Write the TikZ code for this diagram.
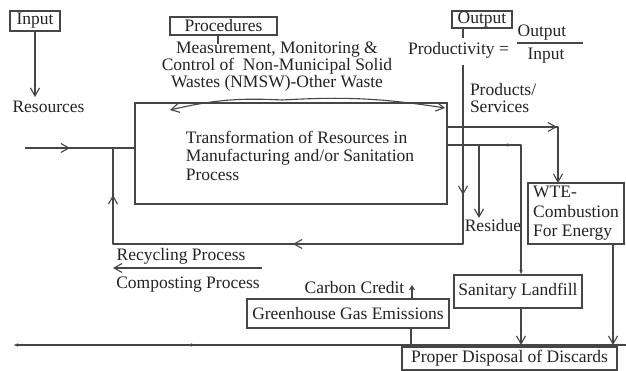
\documentclass[tikz,border=0pt]{standalone}
\usepackage{fontspec}
\setmainfont{Liberation Serif}
\usetikzlibrary{arrows.meta,decorations.markings}
\begin{document}
\begin{tikzpicture}[x=1pt,y=1pt,
  openhead/.tip={Straight Barb[length=8pt,width=9pt]},
  smallhead/.tip={Straight Barb[length=4pt,width=5pt]},
  filledhead/.tip={Latex[length=5pt,width=3.5pt]},
  wire/.style={draw=drawColor,line width=1.1pt,line join=round},
  boxed/.style={draw=drawColor,line width=1.1pt,inner sep=0pt,outer sep=0pt,text=textColor,font=\fontsize{17.5}{17}\selectfont},
  tag/.style={inner sep=0pt,outer sep=0pt,text=textColor,font=\fontsize{17.5}{17}\selectfont},
  midarrow/.style={postaction={decorate,decoration={markings,mark=at position #1 with {\arrow{openhead}}}}},
  middart/.style={postaction={decorate,decoration={markings,mark=at position #1 with {\arrow{filledhead}}}}}]
\definecolor{fillColor}{RGB}{255,255,255}
\definecolor{drawColor}{RGB}{70,70,70}
\definecolor{textColor}{RGB}{35,35,35}
\path[use as bounding box,fill=fillColor] (0,0) rectangle (626,371);

\begin{scope}
\node[boxed,minimum width=50pt,minimum height=20pt] (input) at ( 35.0,350.0) {Input};
\coordinate (resTip) at ( 35.0,274.0);
\node[tag] (resources) at ( 48.5,264.0) {Resources};

\node[boxed,minimum width=107pt,minimum height=18pt] (procedures) at (223.5,345.0) {Procedures};
\coordinate (procTick) at (218.0,327.0);
\node[tag,align=center] (measure) at (277.0,304.0) {Measurement, Monitoring \&\\Control of~~Non-Municipal Solid\\Wastes (NMSW)-Other Waste};
\coordinate (peak) at (282.0,271.0);
\coordinate (leftTip) at (170.0,261.0);
\coordinate (rightTip) at (445.0,263.0);

\node[boxed,minimum width=60pt,minimum height=17pt] (output) at (482.0,351.5) {Output};
\coordinate (outTick) at (463.0,333.0);
\node[tag] (productivity) at (458.5,321.0) {Productivity =};
\node[tag] (numer) at (542.0,338.0) {Output};
\node[tag] (denom) at (546.0,315.0) {Input};
\coordinate (fracL) at (517.0,328.0);
\coordinate (fracR) at (583.0,328.0);
\coordinate (prodTop) at (463.0,306.0);
\node[tag,anchor=west,align=left] (products) at (470.0,273.0) {Products/\\Services};
\end{scope}

\begin{scope}
\node[boxed,minimum width=312pt,minimum height=101pt] (transform) at (291.0,217.5) {};
\node[tag,align=left,font=\fontsize{17.5}{18.5}\selectfont] (transformText) at (300.0,215.5) {Transformation of Resources in\\Manufacturing and/or Sanitation\\Process};
\coordinate (inStart) at ( 25.0,223.0);
\coordinate (loopCorner) at (113.0,127.0);

\node[boxed,minimum width=96pt,minimum height=61pt,align=left,font=\fontsize{17.5}{19.5}\selectfont] (wte) at (576.0,157.5) {WTE-\\Combustion\\For Energy};
\coordinate (wteBend) at (558.0,244.0);
\coordinate (lfBend) at (521.0,226.0);
\coordinate (residueStart) at (479.0,226.0);
\coordinate (residueTip) at (479.0,153.0);
\node[tag] (residue) at (493.0,145.0) {Residue};

\node[tag] (recycling) at (181.0,115.0) {Recycling Process};
\coordinate (recStart) at (262.0,103.0);
\coordinate (recTip) at (113.0,103.0);
\node[tag] (composting) at (188.0, 86.0) {Composting Process};
\end{scope}

\begin{scope}
\node[boxed,minimum width=128pt,minimum height=33pt] (landfill) at (518.0, 79.5) {Sanitary Landfill};
\node[boxed,minimum width=202pt,minimum height=29pt] (ghg) at (348.0, 57.5) {Greenhouse Gas Emissions};
\node[tag] (carbon) at (354.5, 83.0) {Carbon Credit};
\coordinate (carbonTip) at (412.0, 86.0);
\coordinate (ghgDrop) at (411.0, 26.0);
\coordinate (wteDrop) at (613.0, 26.0);
\coordinate (botRight) at (626.0, 26.0);
\coordinate (botLeft) at ( 13.0, 26.0);
\node[boxed,minimum width=215pt,minimum height=23pt] (disposal) at (509.5, 12.5) {Proper Disposal of Discards};
\end{scope}

\begin{scope}
\path[wire,-openhead] (input) -- (resTip);
\path[wire] (procedures.south -| procTick) -- (procTick);
\path[wire,-openhead] (peak) to[bend right=8] (leftTip);
\path[wire,-openhead] (peak) to[bend left=6] (rightTip);
\path[wire] (output.south -| outTick) -- (outTick);
\path[wire] (fracL) -- (fracR);

\path[wire,midarrow=45pt] (inStart) -- (inStart -| transform.west);
\path[wire,midarrow=130pt,midarrow=349pt,midarrow=578pt] (prodTop) -- (prodTop |- loopCorner) -- (loopCorner) -- (loopCorner |- inStart);
\path[wire,midarrow=110pt,-openhead] (transform.east |- wteBend) -- (wteBend) -- (wteBend |- wte.north);
\path[wire,middart=65pt,-filledhead] (transform.east |- lfBend) -- (lfBend) -- (lfBend |- landfill.north);
\path[wire,-openhead] (residueStart) -- (residueTip);
\path[wire,-openhead] (recStart) -- (recTip);

\path[wire,-openhead] (lfBend |- landfill.south) -- (lfBend |- botRight);
\path[wire,-openhead] (wte.south -| wteDrop) -- (wteDrop);
\path[wire] (ghg.south -| ghgDrop) -- (ghgDrop);
\path[wire,-smallhead] (ghg.north -| carbonTip) -- (carbonTip);
\path[wire,middart=439pt,-filledhead] (botRight) -- (botLeft);
\end{scope}
\end{tikzpicture}
\end{document}
